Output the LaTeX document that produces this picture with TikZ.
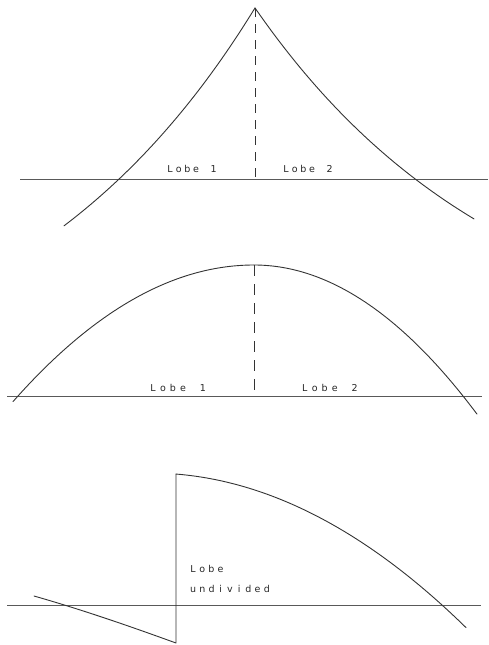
\documentclass[tikz,border=0pt]{standalone}
\usepackage{fontspec}
\newfontfamily\plotfont{DejaVu Sans}
\newlength\pitch
\newcommand\mc[1]{\makebox[\pitch][c]{#1}}
\begin{document}
\begin{tikzpicture}[x=1pt,y=-1pt,
  curve/.style={line width=0.9pt,black!80,line join=round,line cap=round},
  axis/.style={line width=0.8pt,black!65},
  divider/.style={line width=1pt,black!80},
  lbl/.style={inner sep=0pt,anchor=base west,font=\plotfont\fontsize{9.5}{11}\selectfont,text=black!85}]
\useasboundingbox (0,0) rectangle (488,645);
% ---------- panel 1 ----------
\coordinate (p1) at (255,8);
\coordinate (b1) at (255,179);
\draw[axis] (20,179) -- (488,179);
\draw[curve] plot[domain=0:191,samples=80] ({255-\x},{179-(408*exp(-0.004*\x)-237)});
\draw[curve] plot[domain=0:219,samples=80] ({255+\x},{179-(361.6*exp(-0.004*\x)-190.6)});
\draw[divider,dash pattern=on 9pt off 7pt] (p1) -- (b1);
\node[lbl] (l11) at (165.5,172) {\setlength\pitch{8.7pt}\mc{L}\mc{o}\mc{b}\mc{e}\mc{}\mc{1}};
\node[lbl] (l12) at (281.5,172) {\setlength\pitch{8.7pt}\mc{L}\mc{o}\mc{b}\mc{e}\mc{}\mc{2}};
% ---------- panel 2 ----------
\coordinate (p2) at (254,265);
\coordinate (b2) at (254,396);
\draw[axis] (7,396) -- (482,396);
\draw[curve] plot[domain=13:254,samples=80] (\x,{396-131*(1-((254-\x)/236)*((254-\x)/236))});
\draw[curve] plot[domain=254:477,samples=80] (\x,{396-131*(1-((\x-254)/209)*((\x-254)/209))});
\draw[divider,dash pattern=on 11pt off 8pt] (p2) -- (b2);
\node[lbl] (l21) at (147.8,391) {\setlength\pitch{10pt}\mc{L}\mc{o}\mc{b}\mc{e}\mc{}\mc{1}};
\node[lbl] (l22) at (299.5,391) {\setlength\pitch{10pt}\mc{L}\mc{o}\mc{b}\mc{e}\mc{}\mc{2}};
% ---------- panel 3 ----------
\coordinate (t3) at (176,474);
\coordinate (d3) at (176,643);
\coordinate (s3) at (34,596);
\draw[axis] (7,605) -- (481,605);
\draw[curve] (s3) .. controls (90,612) and (140,630) .. (d3) -- (t3);
\draw[curve] plot[domain=176:466,samples=80] (\x,{605-132*(1-((\x-150)/292)*((\x-150)/292))});
\node[lbl] (l31) at (188.2,572) {\setlength\pitch{9.2pt}\mc{L}\mc{o}\mc{b}\mc{e}};
\node[lbl] (l32) at (188.4,592) {\setlength\pitch{9.2pt}\mc{u}\mc{n}\mc{d}\mc{i}\mc{v}\mc{i}\mc{d}\mc{e}\mc{d}};
\end{tikzpicture}
\end{document}
